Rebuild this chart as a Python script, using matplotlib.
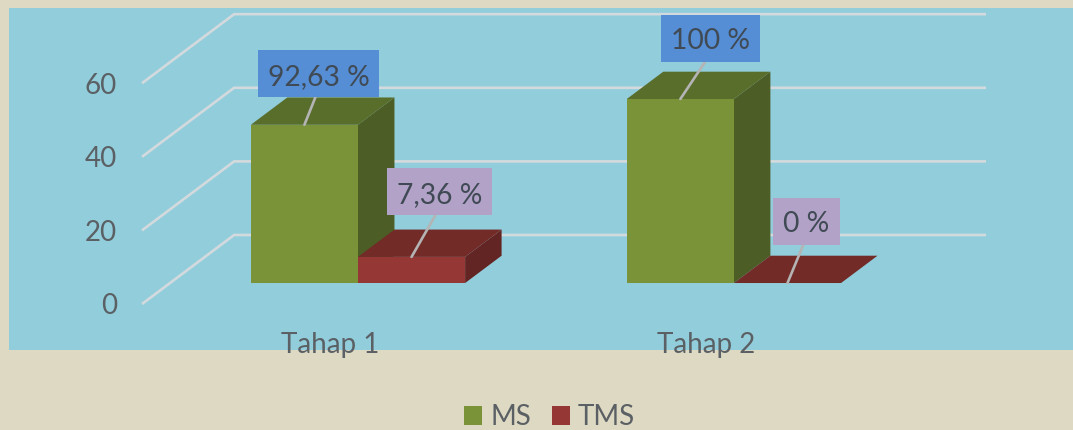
import matplotlib
matplotlib.use('Agg')
import matplotlib.pyplot as plt
from matplotlib.patches import Patch, Polygon, Rectangle
from matplotlib.path import Path

plt.rcParams['font.family'] = ['Lato', 'DejaVu Sans']

# heights as drawn on the axis, the labels are typed separately in the original
categories = ['Tahap 1', 'Tahap 2']
ms_values = [43, 50]
tms_values = [7.1, 0]
ms_labels = ['92,63 %', '100 %']
tms_labels = ['7,36 %', '0 %']
y_ticks = [0, 20, 40, 60]

W, H = 1073, 430
BG = '#DDD9C3'
PANEL = '#92CDDC'
GRID = '#D3DADD'
TEXT = '#5B6064'
MS_COLORS = ('#7A9339', '#5A6E2C', '#4C5D25')  # front, top, side
TMS_COLORS = ('#953735', '#722B27', '#632523')

# floor depth of the fake 3D box in data units
DEPTH_X = 0.245
DEPTH_Y = 18.75
# bars sit between these fractions of the depth
BAR_D0 = 0.304
BAR_D1 = 0.70
BAR_W = 0.285


def label_box(x0, y0, width, height, mutation_size):
    # fixed 47 px high, the text sits a bit under the centre of it
    cy = y0 + height / 2 + 3
    left, right = x0 - 10, x0 + width + 10
    bottom, top = cy - 23.5, cy + 23.5
    return Path([(left, bottom), (right, bottom), (right, top), (left, top), (left, bottom)], closed=True)


fig = plt.figure(figsize=(W / 100, H / 100), dpi=100, facecolor=BG)
fig.add_artist(Rectangle((9 / W, 1 - 350 / H), (W - 9) / W, 342 / H,
                         transform=fig.transFigure, color=PANEL, lw=0, zorder=-1))

ax = fig.add_axes([142 / W, 1 - 304 / H, 844 / W, 290 / H])
ax.set_facecolor('none')
ax.set_xlim(-0.5, 1.5 + DEPTH_X)
ax.set_ylim(0, 78.8)
for s in ax.spines.values():
    s.set_visible(False)

ax.set_xticks(range(len(categories)), categories)
ax.set_yticks(y_ticks)
ax.tick_params(axis='x', length=0, pad=20.5, labelsize=20, labelcolor=TEXT)
ax.tick_params(axis='y', length=0, pad=18, labelsize=20, labelcolor=TEXT)

for v in y_ticks:
    ax.plot([-0.5, -0.5 + DEPTH_X, 1.5 + DEPTH_X], [v, v + DEPTH_Y, v + DEPTH_Y],
            color=GRID, lw=1.9, clip_on=False, zorder=1, solid_capstyle='butt')


def draw_bar(cat, side, value, colors, label, box_color, offset):
    # side -1 is left of the category centre, +1 is right of it
    x0 = cat + BAR_D0 * DEPTH_X + (-BAR_W if side < 0 else 0)
    x1 = x0 + BAR_W
    y0 = BAR_D0 * DEPTH_Y
    y1 = y0 + value
    ddx = (BAR_D1 - BAR_D0) * DEPTH_X
    ddy = (BAR_D1 - BAR_D0) * DEPTH_Y

    ax.bar(x0, value, width=BAR_W, bottom=y0, align='edge', color=colors[0], lw=0, zorder=3)
    ax.add_patch(Polygon([(x1, y0), (x1 + ddx, y0 + ddy), (x1 + ddx, y1 + ddy), (x1, y1)],
                         color=colors[2], lw=0, zorder=2.9))
    ax.add_patch(Polygon([(x0, y1), (x1, y1), (x1 + ddx, y1 + ddy), (x0 + ddx, y1 + ddy)],
                         color=colors[1], lw=0, zorder=3))

    ax.annotate(label, xy=((x0 + x1) / 2, y1), xytext=offset, textcoords='offset pixels',
                ha='center', va='center', fontsize=20.3, color='#404A55', zorder=5,
                bbox=dict(boxstyle=label_box, fc=box_color, ec='none'),
                arrowprops=dict(arrowstyle='-', color='#B4B4B4', lw=1.9, shrinkA=0, shrinkB=0,
                                relpos=(0.5, 0)))


ms_offsets = [(14, 48), (30, 58)]
tms_offsets = [(28, 62), (19, 59)]

for i in range(len(categories)):
    draw_bar(i, -1, ms_values[i], MS_COLORS, ms_labels[i], '#558ED5', ms_offsets[i])
    draw_bar(i, 1, tms_values[i], TMS_COLORS, tms_labels[i], '#B3A2C7', tms_offsets[i])

handles = [Patch(fc=MS_COLORS[0]), Patch(fc=TMS_COLORS[0])]
fig.legend(handles, ['MS', 'TMS'], ncol=2, loc='center', bbox_to_anchor=(549.5 / W, 1 - 417 / H),
           frameon=False, fontsize=20, labelcolor=TEXT, handlelength=0.65, handleheight=0.65,
           handletextpad=0.3, columnspacing=0.75, borderpad=0, borderaxespad=0)

fig.savefig('out.png', dpi=100, facecolor=BG)
